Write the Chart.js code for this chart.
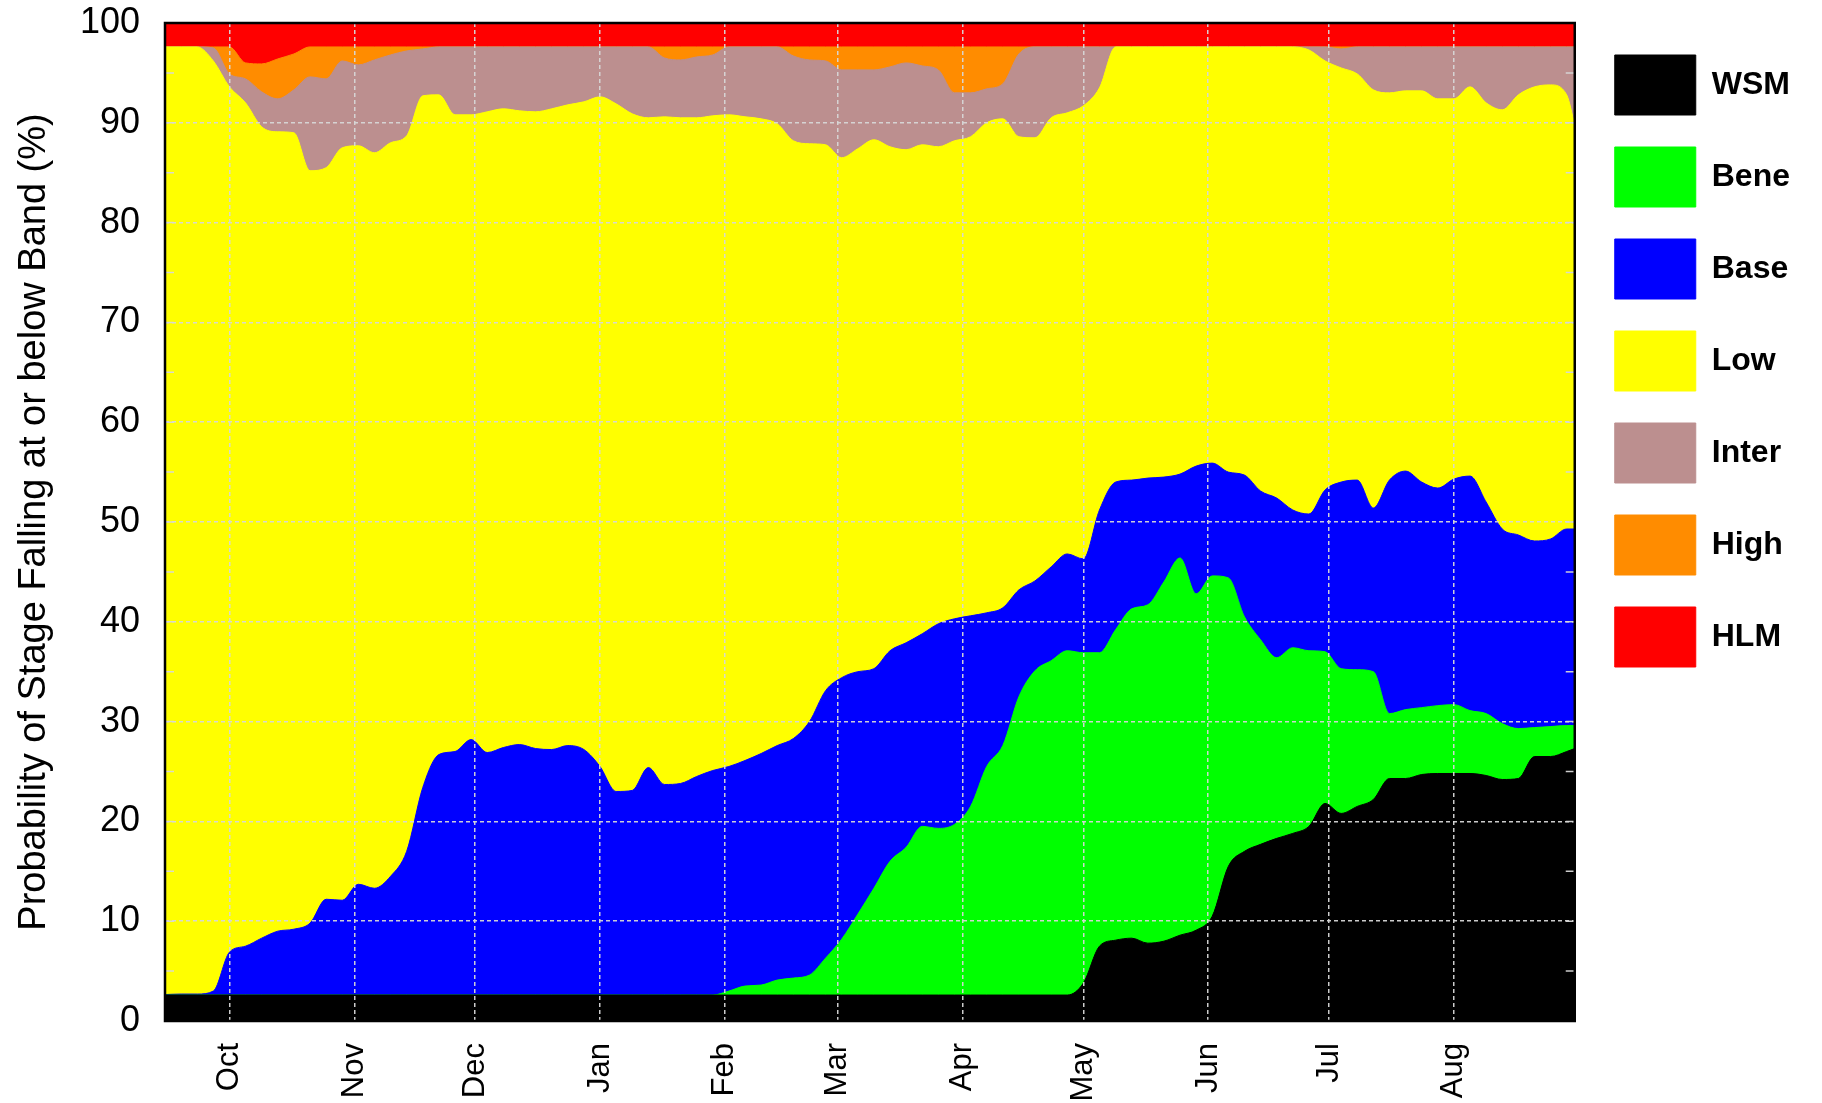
<!DOCTYPE html>
<html>
<head>
<meta charset="utf-8">
<title>Stage band probability</title>
<script src="https://cdn.jsdelivr.net/npm/chart.js@4.4.1/dist/chart.umd.min.js"></script>
<style>
    body { margin: 0; background: #fff; }
    #wrap { width: 1822px; height: 1103px; }
</style>
</head>
<body>
<div id="wrap"><canvas id="bandChart" width="1822" height="1103"></canvas></div>
<script>
// days counted from 15 Sep, one sample every 4 days
const days = [
    0, 4, 8, 12, 16, 20, 24, 28, 32, 36,
    40, 44, 48, 52, 56, 60, 64, 68, 72, 76,
    80, 84, 88, 92, 96, 100, 104, 108, 112, 116,
    120, 124, 128, 132, 136, 140, 144, 148, 152, 156,
    160, 164, 168, 172, 176, 180, 184, 188, 192, 196,
    200, 204, 208, 212, 216, 220, 224, 228, 232, 236,
    240, 244, 248, 252, 256, 260, 264, 268, 272, 276,
    280, 284, 288, 292, 296, 300, 304, 308, 312, 316,
    320, 324, 328, 332, 336, 340, 344, 348, 350
];
const monthDays = [16, 47, 77, 108, 139, 167, 198, 228, 259, 289, 320];
const monthLabels = ['Oct', 'Nov', 'Dec', 'Jan', 'Feb', 'Mar', 'Apr', 'May', 'Jun', 'Jul', 'Aug'];

// cumulative probability (%) of stage falling at or below each band
const wsm = [
    2.6, 2.6, 2.6, 2.6, 2.6, 2.6, 2.6, 2.6, 2.6, 2.6,
    2.6, 2.6, 2.6, 2.6, 2.6, 2.6, 2.6, 2.6, 2.6, 2.6,
    2.6, 2.6, 2.6, 2.6, 2.6, 2.6, 2.6, 2.6, 2.6, 2.6,
    2.6, 2.6, 2.6, 2.6, 2.6, 2.6, 2.6, 2.6, 2.6, 2.6,
    2.6, 2.6, 2.6, 2.6, 2.6, 2.6, 2.6, 2.6, 2.6, 2.6,
    2.6, 2.6, 2.6, 2.6, 2.6, 2.6, 2.6, 3.8, 7.5, 8.1,
    8.3, 7.8, 8.0, 8.6, 9.1, 10.5, 15.5, 17.0, 17.7, 18.3,
    18.8, 19.5, 21.8, 20.8, 21.5, 22.2, 24.3, 24.3, 24.7, 24.8,
    24.8, 24.8, 24.6, 24.2, 24.3, 26.5, 26.5, 27.0, 27.3
];
const bene = [
    2.6, 2.6, 2.6, 2.6, 2.6, 2.6, 2.6, 2.6, 2.6, 2.6,
    2.6, 2.6, 2.6, 2.6, 2.6, 2.6, 2.6, 2.6, 2.6, 2.6,
    2.6, 2.6, 2.6, 2.6, 2.6, 2.6, 2.6, 2.6, 2.6, 2.6,
    2.6, 2.6, 2.6, 2.6, 2.6, 3.0, 3.5, 3.6, 4.1, 4.3,
    4.6, 6.3, 8.2, 10.7, 13.3, 16.0, 17.4, 19.5, 19.3, 19.7,
    21.5, 25.5, 27.6, 32.5, 35.1, 36.1, 37.1, 36.9, 36.9, 39.2,
    41.3, 41.7, 44.0, 46.4, 42.8, 44.6, 44.4, 40.5, 38.2, 36.4,
    37.4, 37.1, 37.0, 35.3, 35.2, 35.0, 30.8, 31.2, 31.4, 31.6,
    31.7, 31.1, 30.8, 29.8, 29.3, 29.4, 29.5, 29.6, 29.6
];
const base = [
    2.65, 2.7, 2.7, 3.0, 6.9, 7.5, 8.3, 9.0, 9.2, 9.8,
    12.2, 12.1, 13.7, 13.3, 14.5, 17.0, 23.4, 26.7, 27.0, 28.2,
    26.9, 27.4, 27.7, 27.3, 27.2, 27.6, 27.2, 25.5, 23.0, 23.1,
    25.4, 23.7, 23.8, 24.5, 25.1, 25.5, 26.1, 26.8, 27.6, 28.3,
    30.0, 33.1, 34.4, 35.0, 35.3, 37.1, 37.9, 38.8, 39.8, 40.3,
    40.6, 40.9, 41.4, 43.2, 44.1, 45.5, 46.8, 46.3, 51.2, 54.0,
    54.2, 54.4, 54.5, 54.8, 55.6, 55.9, 55.0, 54.7, 53.1, 52.4,
    51.2, 50.8, 53.2, 54.0, 54.2, 51.4, 54.2, 55.1, 54.0, 53.4,
    54.3, 54.6, 52.0, 49.3, 48.7, 48.1, 48.3, 49.3, 49.3
];
const low = [
    97.6, 97.6, 97.6, 96.2, 93.6, 92.0, 89.6, 89.1, 89.0, 85.2,
    85.5, 87.5, 87.7, 87.0, 88.0, 88.7, 92.7, 92.8, 90.8, 90.8,
    91.1, 91.4, 91.2, 91.1, 91.4, 91.8, 92.1, 92.6, 91.9, 90.9,
    90.5, 90.6, 90.5, 90.5, 90.7, 90.8, 90.6, 90.4, 89.9, 88.2,
    87.9, 87.8, 86.5, 87.4, 88.3, 87.6, 87.3, 87.8, 87.6, 88.2,
    88.6, 90.0, 90.4, 88.6, 88.5, 90.5, 91.0, 91.7, 93.5, 97.6,
    97.6, 97.6, 97.6, 97.6, 97.6, 97.6, 97.6, 97.6, 97.6, 97.6,
    97.6, 97.3, 96.2, 95.5, 94.9, 93.3, 93.0, 93.2, 93.2, 92.4,
    92.4, 93.6, 92.0, 91.3, 92.8, 93.6, 93.8, 92.8, 89.8
];
const inter = [
    97.6, 97.6, 97.6, 97.5, 94.9, 94.4, 93.1, 92.4, 93.3, 94.6,
    94.4, 96.2, 95.8, 96.3, 96.8, 97.2, 97.4, 97.6, 97.6, 97.6,
    97.6, 97.6, 97.6, 97.6, 97.6, 97.6, 97.6, 97.6, 97.6, 97.6,
    97.6, 96.5, 96.3, 96.6, 96.8, 97.6, 97.6, 97.6, 97.6, 96.7,
    96.3, 96.2, 95.3, 95.3, 95.3, 95.6, 96.0, 95.7, 95.3, 93.0,
    93.0, 93.4, 93.9, 96.9, 97.6, 97.6, 97.6, 97.6, 97.6, 97.6,
    97.6, 97.6, 97.6, 97.6, 97.6, 97.6, 97.6, 97.6, 97.6, 97.6,
    97.6, 97.6, 97.6, 97.4, 97.6, 97.6, 97.6, 97.6, 97.6, 97.6,
    97.6, 97.6, 97.6, 97.6, 97.6, 97.6, 97.6, 97.6, 97.6
];
const high = [
    97.6, 97.6, 97.6, 97.6, 97.6, 96.0, 95.9, 96.4, 96.9, 97.6,
    97.6, 97.6, 97.6, 97.6, 97.6, 97.6, 97.6, 97.6, 97.6, 97.6,
    97.6, 97.6, 97.6, 97.6, 97.6, 97.6, 97.6, 97.6, 97.6, 97.6,
    97.6, 97.6, 97.6, 97.6, 97.6, 97.6, 97.6, 97.6, 97.6, 97.6,
    97.6, 97.6, 97.6, 97.6, 97.6, 97.6, 97.6, 97.6, 97.6, 97.6,
    97.6, 97.6, 97.6, 97.6, 97.6, 97.6, 97.6, 97.6, 97.6, 97.6,
    97.6, 97.6, 97.6, 97.6, 97.6, 97.6, 97.6, 97.6, 97.6, 97.6,
    97.6, 97.6, 97.6, 97.6, 97.6, 97.6, 97.6, 97.6, 97.6, 97.6,
    97.6, 97.6, 97.6, 97.6, 97.6, 97.6, 97.6, 97.6, 97.6
];
const hlm = [
    100, 100, 100, 100, 100, 100, 100, 100, 100, 100,
    100, 100, 100, 100, 100, 100, 100, 100, 100, 100,
    100, 100, 100, 100, 100, 100, 100, 100, 100, 100,
    100, 100, 100, 100, 100, 100, 100, 100, 100, 100,
    100, 100, 100, 100, 100, 100, 100, 100, 100, 100,
    100, 100, 100, 100, 100, 100, 100, 100, 100, 100,
    100, 100, 100, 100, 100, 100, 100, 100, 100, 100,
    100, 100, 100, 100, 100, 100, 100, 100, 100, 100,
    100, 100, 100, 100, 100, 100, 100, 100, 100
];

const bandNames = ['WSM', 'Bene', 'Base', 'Low', 'Inter', 'High', 'HLM'];
const bandColors = ['#000000', '#00ff00', '#0000ff', '#ffff00', '#bc8f8f', '#ff8c00', '#ff0000'];
const bandValues = [wsm, bene, base, low, inter, high, hlm];

const GRID = 'rgba(215, 215, 215, 0.95)';

// minor ticks every 5% on both sides, then the black frame
const framePlugin = {
    id: 'frame',
    afterDraw(chart) {
        const { ctx, chartArea: a, scales } = chart;
        ctx.save();
        ctx.strokeStyle = GRID;
        ctx.lineWidth = 1.5;
        ctx.beginPath();
        for (let v = 5; v < 100; v += 5) {
            const py = scales.y.getPixelForValue(v);
            ctx.moveTo(a.left, py);
            ctx.lineTo(a.left + 9, py);
            ctx.moveTo(a.right - 9, py);
            ctx.lineTo(a.right, py);
        }
        ctx.stroke();
        ctx.strokeStyle = '#000';
        ctx.lineWidth = 2.5;
        ctx.strokeRect(a.left, a.top, a.right - a.left, a.bottom - a.top);
        ctx.restore();
    }
};

document.addEventListener('DOMContentLoaded', function () {
    Chart.defaults.font.family = "'Liberation Sans', Arial, sans-serif";
    Chart.defaults.color = '#000';

    // each band is filled down to zero; the lower bands are drawn on top
    const datasets = bandNames.map((name, k) => ({
        label: name,
        data: days.map((d, i) => ({ x: d, y: bandValues[k][i] })),
        backgroundColor: bandColors[k],
        borderColor: bandColors[k],
        borderWidth: 1,
        fill: 'origin',
        pointRadius: 0,
        cubicInterpolationMode: 'monotone'
    }));

    const ctx = document.getElementById('bandChart').getContext('2d');
    new Chart(ctx, {
        type: 'line',
        data: { datasets: datasets },
        options: {
            responsive: false,
            animation: false,
            layout: { padding: { top: 1, right: 22, bottom: 0, left: 0 } },
            plugins: {
                tooltip: { enabled: false },
                legend: {
                    position: 'right',
                    align: 'start',
                    // empty title only pushes the first box down
                    title: { display: true, text: ' ', font: { size: 10 }, padding: { top: 5, bottom: 5 } },
                    labels: {
                        boxWidth: 81,
                        boxHeight: 60,
                        padding: 32,
                        color: '#000',
                        font: { size: 32, weight: 'bold' }
                    }
                }
            },
            scales: {
                x: {
                    type: 'linear',
                    min: 0,
                    max: 350,
                    afterBuildTicks: function (scale) {
                        scale.ticks = monthDays.map(v => ({ value: v }));
                    },
                    afterFit: function (scale) { scale.height = 82; },
                    ticks: {
                        autoSkip: false,
                        minRotation: 90,
                        maxRotation: 90,
                        padding: 22,
                        font: { size: 31 },
                        callback: v => monthLabels[monthDays.indexOf(v)]
                    },
                    grid: { color: GRID, lineWidth: 1.5, drawTicks: false, z: 1 },
                    border: { display: false, dash: [4, 3] }
                },
                y: {
                    min: 0,
                    max: 100,
                    afterFit: function (scale) {
                        scale.width = 165;
                        scale.paddingTop = 23;
                        scale.paddingBottom = 23;
                    },
                    ticks: { stepSize: 10, padding: 25, font: { size: 36 } },
                    grid: {
                        color: c => (c.tick.value === 0 || c.tick.value === 100) ? 'rgba(0,0,0,0)' : GRID,
                        lineWidth: 1.5,
                        drawTicks: false,
                        z: 1
                    },
                    border: { display: false, dash: [4, 3] },
                    title: {
                        display: true,
                        text: 'Probability of Stage Falling at or below Band (%)',
                        font: { size: 38 },
                        padding: { top: 12, bottom: 0 }
                    }
                },
                yr: {
                    position: 'right',
                    min: 0,
                    max: 100,
                    afterFit: function (scale) { scale.width = 8; },
                    ticks: { display: false },
                    grid: { display: false },
                    border: { display: false }
                }
            }
        },
        plugins: [framePlugin]
    });
});
</script>
</body>
</html>
